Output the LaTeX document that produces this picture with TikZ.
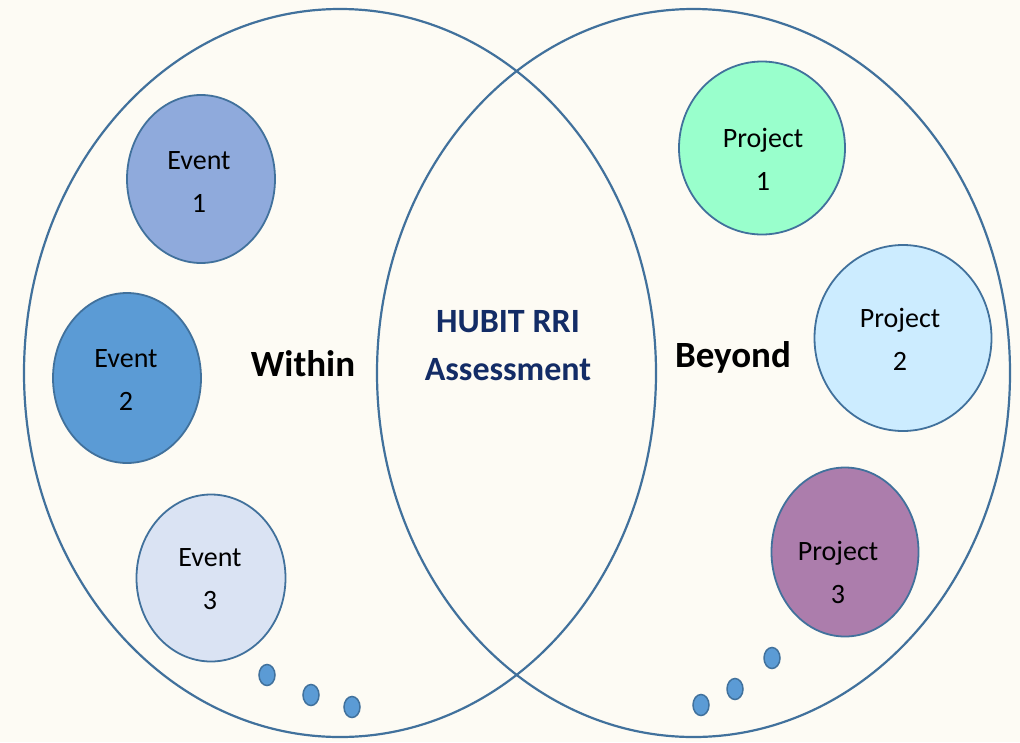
\documentclass[tikz,border=0pt]{standalone}
\usepackage{fontspec}
\setmainfont{Carlito}
\usetikzlibrary{shapes.geometric}
\definecolor{bgc}{HTML}{FDFBF4}
\definecolor{edge}{HTML}{41719C}
\definecolor{navy}{HTML}{132C66}
\definecolor{evA}{HTML}{8FAADC}
\definecolor{evB}{HTML}{5B9BD5}
\definecolor{evC}{HTML}{DAE3F3}
\definecolor{prA}{HTML}{99FFCC}
\definecolor{prB}{HTML}{CCECFF}
\definecolor{prC}{HTML}{AC7DAC}
\tikzset{
  bigell/.style={ellipse, draw=edge, line width=2.2pt, inner sep=0pt, minimum width=632pt, minimum height=728pt},
  bubble/.style={ellipse, draw=edge, line width=1.8pt, inner sep=0pt},
  bubtxt/.style={align=center, inner sep=0pt, font=\fontsize{28}{43}\selectfont},
  dotmark/.style={ellipse, draw=edge, fill=evB, line width=1.5pt, inner sep=0pt, minimum width=16pt, minimum height=21pt},
  biglbl/.style={font=\fontsize{37}{44}\selectfont\bfseries},
  midlbl/.style={font=\fontsize{34}{48}\selectfont\bfseries, text=navy, align=center}
}
\begin{document}
\begin{tikzpicture}[x=1pt,y=-1pt]
\fill[bgc] (0,0) rectangle (1020,742);
\useasboundingbox (0,0) rectangle (1020,742);
\node[bigell] (left) at (340,373) {};
\node[bigell, minimum width=633pt] (right) at (693.5,373) {};
\node[bubble, fill=evA, minimum width=148pt, minimum height=168pt] (e1) at (201,179) {};
\node[bubble, fill=evB, minimum width=148pt, minimum height=170pt] (e2) at (127,378) {};
\node[bubble, fill=evC, minimum width=149pt, minimum height=167pt] (e3) at (211,578) {};
\node[bubble, fill=prA, minimum width=166pt, minimum height=173pt] (p1) at (762,148) {};
\node[bubble, fill=prB, minimum width=177pt, minimum height=186pt] (p2) at (903,338) {};
\node[bubble, fill=prC, minimum width=147pt, minimum height=169pt] (p3) at (845,552) {};
\node[bubtxt] (e1t) at (199,182) {Event\\1};
\node[bubtxt] (e2t) at (126,380) {Event\\2};
\node[bubtxt] (e3t) at (210,579) {Event\\3};
\node[bubtxt] (p1t) at (763,159) {Project\\1};
\node[bubtxt] (p2t) at (900,339) {Project\\2};
\node[bubtxt] (p3t) at (838,572) {Project\\3};
\node[dotmark] (d1) at (267,675) {};
\node[dotmark] (d2) at (311,695) {};
\node[dotmark] (d3) at (352,707) {};
\node[dotmark] (d4) at (701,705) {};
\node[dotmark] (d5) at (735,689) {};
\node[dotmark] (d6) at (772,658) {};
\node[biglbl] (within) at (303,364) {Within};
\node[biglbl] (beyond) at (733,357) {Beyond};
\node[midlbl] (hubit) at (508,346) {HUBIT RRI\\Assessment};
\end{tikzpicture}
\end{document}
